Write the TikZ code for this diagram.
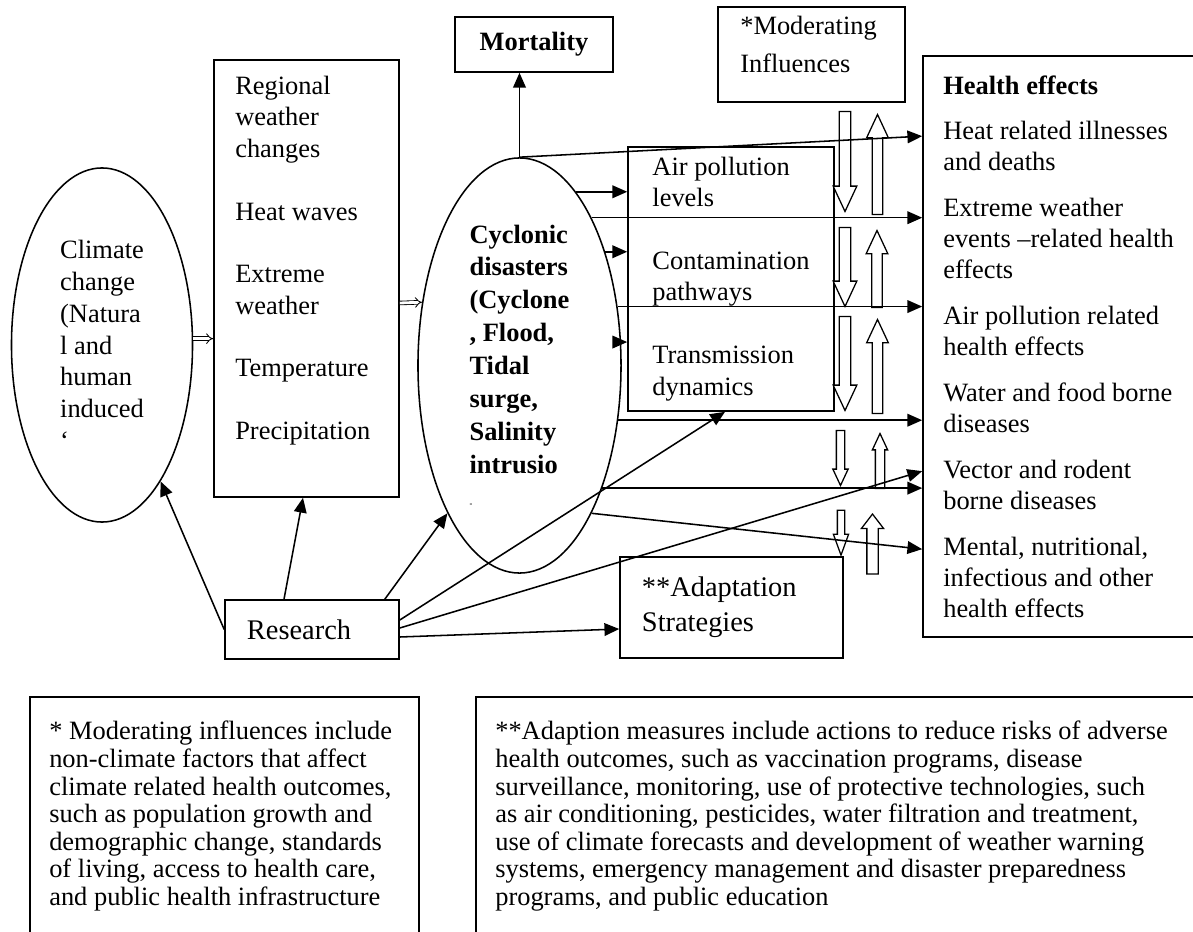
\documentclass[tikz,border=0pt]{standalone}
\usepackage{fontspec}
\setmainfont{Liberation Serif}
\usetikzlibrary{arrows.meta,positioning,calc,shapes.geometric,shapes.arrows}
\tikzset{
  box/.style={rectangle, draw, line width=1.1pt, inner sep=0pt},
  oval/.style={ellipse, draw, line width=1.1pt, inner sep=0pt, align=left},
  txt/.style={inner sep=0pt, align=left, anchor=north west, font=\fontsize{18.8}{22.3}\selectfont},
  arr/.style={-{Triangle[length=10.5pt, width=9pt]}, line width=1.1pt},
  imp/.style={double, double distance=2pt, line width=0.6pt, -{Implies}},
  hollow/.style n args={2}{single arrow, draw, fill=white, line width=0.9pt, inner sep=0pt,
                           inner ysep=#1, single arrow head extend=#2, single arrow tip angle=50, anchor=tip},
}

\begin{document}
\begin{tikzpicture}[x=0.025cm, y=-0.025cm]
\useasboundingbox (0,0) rectangle (1193,932);
\node[oval, minimum width=4.525cm, minimum height=8.85cm, font=\fontsize{18.8}{22.6}\selectfont] (clim) at (102,345) {Climate\\change\\(Natura\\l and\\human\\induced\\`};
\node[box, minimum width=4.625cm, minimum height=10.925cm] (reg) at (306.5,278.5) {};
\node[txt] (regtxt) at (235,76) {Regional\\weather\\changes\\[22.3pt]Heat waves\\[22.3pt]Extreme\\weather\\[22.3pt]Temperature\\[22.3pt]Precipitation};
\node[oval, minimum width=5.075cm, minimum height=10.375cm, font=\bfseries\fontsize{18.8}{23.4}\selectfont] (cyc) at (519.5,365.5) {Cyclonic\\disasters\\(Cyclone\\, Flood,\\Tidal\\surge,\\Salinity\\intrusio\\{\fontsize{6}{6}\selectfont -}};
\node[box, minimum width=3.95cm, minimum height=1.375cm, font=\bfseries\fontsize{18.8}{22}\selectfont] (mort) at (534,44.5) {Mortality};
\node[box, minimum width=4.675cm, minimum height=2.375cm] (mod) at (811.5,54.5) {};
\node[txt, font=\fontsize{18.8}{27}\selectfont] (modtxt) at (740,16) {*Moderating\\Influences};
\node[box, minimum width=5.15cm, minimum height=6.6cm, align=left, font=\fontsize{18.8}{22.3}\selectfont] (mid) at (731,279) {Air pollution\\levels\\[22.3pt]Contamination\\pathways\\[22.3pt]Transmission\\dynamics};
\node[box, minimum width=6.925cm, minimum height=14.525cm] (hl) at (1061.5,346.5) {};
\node[txt, font=\fontsize{18.8}{22}\selectfont] (hltxt) at (943,76) {\textbf{Health effects}\\[10pt]Heat related illnesses\\and deaths\\[10.7pt]Extreme weather\\events –related health\\effects\\[10.7pt]Air pollution related\\health effects\\[10.7pt]Water and food borne\\diseases\\[10.7pt]Vector and rodent\\borne diseases\\[10.7pt]Mental, nutritional,\\infectious and other\\health effects};
\node[box, minimum width=4.35cm, minimum height=1.475cm, text width=3.25cm, inner xsep=0.55cm, align=left, font=\fontsize{20.2}{24}\selectfont] (res) at (312,629.5) {Research};
\node[box, minimum width=5.575cm, minimum height=2.525cm, text width=4.475cm, inner xsep=0.55cm, align=left, font=\fontsize{20.2}{24.9}\selectfont] (ad) at (731.5,607.5) {**Adaptation\\Strategies};
\node[box, minimum width=9.725cm, minimum height=6.2cm] (n1) at (224.5,821) {};
\node[txt, font=\fontsize{18.8}{19.6}\selectfont] (n1txt) at (49,721) {* Moderating influences include\\non-climate factors that affect\\climate related health outcomes,\\such as population growth and\\demographic change, standards\\of living, access to health care,\\and public health infrastructure};
\node[box, minimum width=18.1cm, minimum height=6.2cm] (n2) at (838,821) {};
\node[txt, font=\fontsize{18.8}{19.6}\selectfont] (n2txt) at (495,721) {**Adaption measures include actions to reduce risks of adverse\\health outcomes, such as vaccination programs, disease\\surveillance, monitoring, use of protective technologies, such\\as air conditioning, pesticides, water filtration and treatment,\\use of climate forecasts and development of weather warning\\systems, emergency management and disaster preparedness\\programs, and public education};
\node[hollow={0.13cm}{0.15cm}, minimum height=2.5cm, rotate=-90] (d1) at (845,213) {};
\node[hollow={0.115cm}{0.14cm}, minimum height=2.5cm, rotate=90] (u1) at (877.5,113) {};
\node[hollow={0.13cm}{0.15cm}, minimum height=1.975cm, rotate=-90] (d2) at (845,308) {};
\node[hollow={0.115cm}{0.14cm}, minimum height=1.925cm, rotate=90] (u2) at (877,229) {};
\node[hollow={0.13cm}{0.15cm}, minimum height=2.35cm, rotate=-90] (d3) at (845,412) {};
\node[hollow={0.115cm}{0.14cm}, minimum height=2.35cm, rotate=90] (u3) at (877.5,318) {};
\node[hollow={0.0875cm}{0.0875cm}, minimum height=1.375cm, rotate=-90] (d4) at (840.5,487) {};
\node[hollow={0.1cm}{0.075cm}, minimum height=1.375cm, rotate=90] (u4) at (880,432) {};
\node[hollow={0.075cm}{0.1cm}, minimum height=1.125cm, rotate=-90, single arrow tip angle=40] (d5) at (841,557) {};
\node[hollow={0.125cm}{0.1375cm}, minimum height=1.5cm, rotate=90, single arrow tip angle=75] (u5) at (872.5,513) {};
\draw[imp] (clim.4) -- (reg.west |- clim.4);
\draw[imp] ($(reg.east)+(0,24.5)$) -- (cyc.147);
\draw[arr] (cyc.north) -- (cyc.north |- mort.south);
\draw[arr] (cyc.north) -- ($(hl.north west)+(0,81)$);
\foreach \a in {72,53,13} \draw[arr] (cyc.\a) -- (mid.west |- cyc.\a);
\foreach \a in {64,31,331,304} \draw[arr] (cyc.\a) -- (hl.west |- cyc.\a);
\draw[arr] (cyc.296) -- ($(hl.north west)+(0,494)$);
\draw[arr] (res.west) -- (clim);
\draw[arr] ($(res.north)+(-28,0)$) -- ($(reg.south)+(-3.5,0)$);
\draw[arr] ($(res.north east)+(-15,0)$) -- (cyc.244);
\draw[arr] ($(res.east)+(0,-9.5)$) -- ($(mid.south)+(-6,0)$);
\draw[arr] ($(res.east)+(0,-1.5)$) -- ($(hl.north west)+(0,416)$);
\draw[arr] ($(res.east)+(0,7.5)$) -- ($(ad.west)+(0,21.5)$);
\end{tikzpicture}
\end{document}
